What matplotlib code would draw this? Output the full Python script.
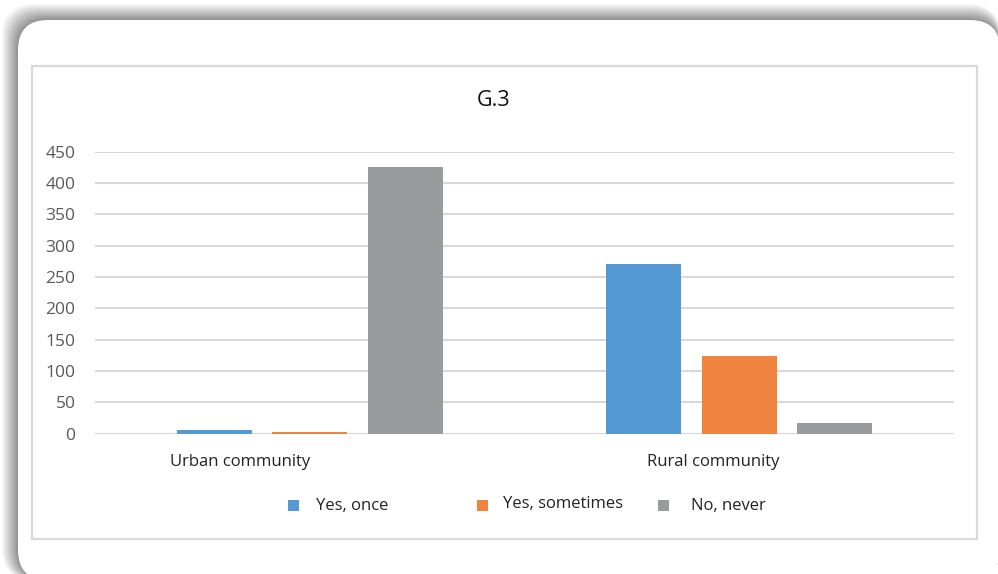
import matplotlib
matplotlib.use("Agg")
import matplotlib.pyplot as plt
import numpy as np
from matplotlib.patches import FancyBboxPatch, Rectangle
from matplotlib.transforms import IdentityTransform

categories = ["Urban community", "Rural community"]
series = ["Yes, once", "Yes, sometimes", "No, never"]
yes_once = [6, 271]
yes_sometimes = [3, 124]
no_never = [425, 17]
colors = ["#5599D4", "#F0843F", "#999C9D"]
yticks = [0, 50, 100, 150, 200, 250, 300, 350, 400, 450]

W, H = 998, 574
fig = plt.figure(figsize=(W / 100, H / 100), dpi=100)
fig.patch.set_facecolor("white")

def px_box(x0, y0, x1, y1, r, color, z):
    # pixel coords measured from top-left
    p = FancyBboxPatch((x0 + r, H - y1 + r), (x1 - x0) - 2 * r, (y1 - y0) - 2 * r,
                       boxstyle=f"round,pad={r}", transform=IdentityTransform(),
                       facecolor=color, edgecolor="none", zorder=z)
    fig.patches.append(p)

# shadow layers (gradient) then white rounded card
n = 16
for i in range(n, 0, -1):
    t = i / n
    g = 0.55 + 0.42 * t
    px_box(18 - i, 20 - i, 1000, 580, 32, (g, g, g), -10)
px_box(18, 20, 1000, 580, 30, "white", -5)

# inner chart border
border = Rectangle((32, H - 539), 977 - 32, 539 - 66, transform=IdentityTransform(),
                   facecolor="none", edgecolor="#D9D9D9", linewidth=1.6, zorder=-1)
fig.patches.append(border)

left, right = 95 / W, 954 / W
bottom, top = 1 - 433.5 / H, 1 - 151.5 / H
ax = fig.add_axes([left, bottom, right - left, top - bottom])
ax.set_facecolor("none")

x = np.arange(len(categories))
width = 0.175
step = 0.222
for k, (vals, c, lab) in enumerate(zip([yes_once, yes_sometimes, no_never], colors, series)):
    ax.bar(x + (k - 1) * step, vals, width=width, color=c, label=lab, zorder=3)

ax.set_xlim(-0.5, 1.5)
ax.set_ylim(0, 450)
ax.set_yticks(yticks)
ax.yaxis.grid(True, color="#D9D9D9", linewidth=1.5, zorder=0)
ax.set_axisbelow(True)
for s in ax.spines.values():
    s.set_visible(False)
ax.tick_params(axis="y", length=0, pad=14, labelsize=12.5, labelcolor="#595959")
ax.tick_params(axis="x", length=0)
ax.set_xticks([])
for lab in ax.get_yticklabels():
    lab.set_fontfamily("Open Sans")

label_offsets = [-0.162, -0.061]
for xi, cat, off in zip(x, categories, label_offsets):
    ax.text(xi + off, -45, cat, ha="center", va="center", fontsize=12,
            family="Open Sans", color="#222222")

fig.text(494 / W, 1 - 100 / H, "G.3", ha="center", va="center", fontsize=15.5,
         family="Open Sans", color="#111111")

# legend entries (Excel-style, placed in pixel layout)
marker_x = [288, 477, 658]
text_x = [316, 503, 691]
text_y = [506, 503.5, 506]
for c, lab, mx, tx, ty in zip(colors, series, marker_x, text_x, text_y):
    fig.patches.append(Rectangle((mx, H - 511), 11, 11, transform=IdentityTransform(),
                                 facecolor=c, edgecolor="none"))
    fig.text(tx / W, 1 - ty / H, lab, ha="left", va="center", fontsize=12,
             family="Open Sans", color="#222222")

fig.savefig("out.png", dpi=100)
